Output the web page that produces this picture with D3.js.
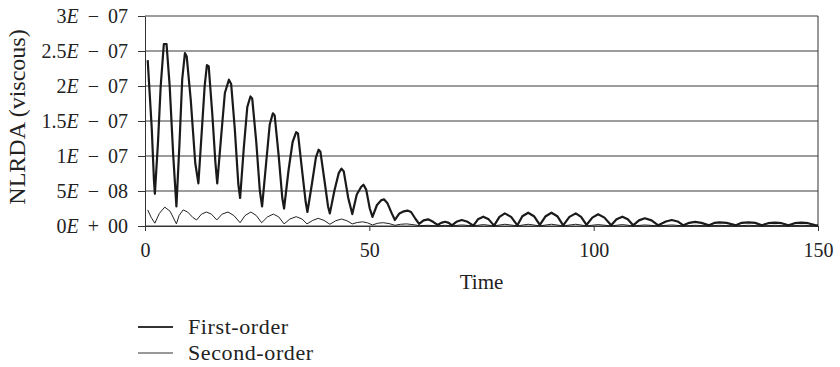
<!DOCTYPE html>
<html>
<head>
<meta charset="utf-8">
<script src="https://cdn.jsdelivr.net/npm/d3@7"></script>
<style>
  body { margin: 0; background: #fff; }
  text { font-family: "Liberation Serif", "Times New Roman", serif; fill: #222; }
</style>
</head>
<body>
<div id="chart"></div>
<script>
// values (time, NLRDA)
var firstTime = [0.6, 1.5, 2.0, 2.2, 2.9, 3.5, 4.2, 4.8, 5.5, 6.3, 7.0, 7.7, 8.3, 8.9, 9.3, 10.2, 11.2, 11.9,
  12.6, 13.3, 13.8, 14.2, 15.0, 15.7, 16.1, 17.0, 17.8, 18.7, 19.2, 20.0, 20.8, 21.2, 22.0, 22.8, 23.5, 23.9,
  24.8, 25.6, 26.1, 27.0, 27.8, 28.5, 28.9, 29.8, 30.6, 31.0, 32.0, 32.9, 33.7, 34.1, 35.0, 35.8, 36.2,
  37.2, 38.1, 38.7, 39.1, 40.0, 40.8, 41.2, 42.2, 43.2, 43.8, 44.3, 45.3, 46.2, 47.2, 48.2, 48.7, 49.3,
  50.1, 50.7, 51.7, 52.7, 53.3, 54.0, 55.0, 55.7, 56.7, 57.7, 58.5, 59.3, 60.3, 61.1, 62.1, 63.1, 64.2,
  65.2, 66.0, 66.9, 67.7, 68.4, 69.4, 70.6, 71.9, 73.2, 74.2, 75.4, 76.6, 77.8, 79.0, 80.2, 81.6, 83.0,
  84.1, 85.4, 86.7, 88.0, 89.3, 90.6, 91.9, 93.2, 94.6, 96.0, 97.2, 98.4, 99.7, 101.0, 102.4, 103.9,
  105.1, 106.4, 107.6, 108.8, 110.1, 111.4, 112.9, 114.4, 116.1, 117.4, 118.7, 120.0, 121.3, 122.6, 124.0,
  125.7, 127.0, 128.0, 129.6, 131.7, 133.0, 134.5, 136.0, 137.5, 138.9, 140.4, 141.9, 143.4, 144.8, 146.3,
  147.8, 149.5, 150];
var firstValue = [23.7, 14, 6.5, 4.6, 12, 20, 26.0, 26.0, 20, 10, 2.8, 12, 21, 24.7, 24.2, 18, 9, 6.1,
  13, 20, 23.0, 22.8, 16, 9, 6.1, 13, 19, 20.9, 20.3, 14, 6, 4.0, 11, 17, 18.5, 18.2,
  12, 5, 2.8, 9, 14.5, 16.1, 15.8, 10, 4, 2.5, 8, 12, 13.4, 13.2, 8, 3.5, 2.0,
  6, 9.8, 10.9, 10.6, 6.5, 2.8, 1.8, 5, 7.6, 8.2, 7.8, 4, 1.7, 4.5, 5.6, 5.9, 5.2,
  2.5, 1.3, 3.0, 3.7, 3.8, 3.3, 1.8, 0.86, 1.8, 2.1, 2.2, 2.0, 1.0, 0.3, 0.8, 0.95, 0.6,
  0.15, 0.45, 0.6, 0.45, 0.1, 0.6, 0.86, 0.6, 0.05, 0.95, 1.33, 0.95, 0.05, 1.3, 1.8, 1.3, 0.1,
  1.4, 1.9, 1.4, 0.15, 1.4, 1.9, 1.4, 0.1, 1.3, 1.8, 1.3, 0.15, 1.2, 1.67, 1.2, 0.1,
  0.95, 1.33, 0.95, 0.1, 0.8, 1.1, 0.8, 0.1, 0.65, 0.86, 0.65, 0.1, 0.45, 0.6, 0.45,
  0.1, 0.45, 0.53, 0.45, 0.1, 0.45, 0.53, 0.45, 0.1, 0.4, 0.47, 0.4, 0.1, 0.4, 0.47,
  0.4, 0.1, 0.1].map(function(v) { return v * 1e-8; });

var secondTime = [0.6, 1.4, 2.2, 3.2, 4.4, 5.6, 7.0, 7.6, 8.5, 9.5, 10.7, 11.5, 12.6, 13.7, 14.8, 16.0,
  17.2, 18.5, 19.8, 21.2, 22.3, 23.6, 24.8, 26.0, 27.3, 28.6, 29.8, 31.0, 32.3, 33.7, 35.0, 36.1,
  37.4, 38.6, 39.9, 41.2, 42.5, 43.8, 45.0, 46.2, 47.3, 48.5, 49.6, 50.7, 51.9, 53.1, 54.4, 55.7,
  57.0, 58.3, 59.7, 61.1, 63.1, 65.2, 66.9, 68.4, 70.6, 73.2, 75.4, 77.8, 80.2, 83.0, 85.4, 88.0,
  90.6, 93.2, 96.0, 98.4, 101.0, 103.9, 106.4, 108.8, 111.4, 114.4, 117.4, 120.0, 122.6, 125.7,
  128.0, 131.7, 134.5, 137.5, 140.4, 143.4, 146.3, 150];
var secondValue = [2.3, 1.2, 0.4, 1.8, 2.7, 2.1, 0.3, 1.5, 2.3, 2.0, 1.2, 0.86, 1.7, 2.0, 1.7, 0.86,
  1.7, 2.0, 1.5, 0.47, 1.5, 2.0, 1.5, 0.47, 1.3, 1.7, 1.3, 0.3, 1.0, 1.33, 1.0, 0.3,
  0.8, 1.1, 0.8, 0.25, 0.75, 1.0, 0.75, 0.3, 0.5, 0.6, 0.45, 0.15, 0.4, 0.47, 0.35, 0.1,
  0.25, 0.3, 0.2, 0.05, 0.1, 0.02, 0.1, 0.02, 0.15, 0.02, 0.2, 0.02, 0.25, 0.02, 0.25, 0.02,
  0.25, 0.02, 0.25, 0.02, 0.2, 0.02, 0.2, 0.02, 0.15, 0.02, 0.15, 0.02, 0.1, 0.02,
  0.1, 0.02, 0.1, 0.02, 0.1, 0.02, 0.1, 0.02].map(function(v) { return v * 1e-8; });

var xTicks = [0, 50, 100, 150];
var yTicks = [0, 5e-8, 1e-7, 1.5e-7, 2e-7, 2.5e-7, 3e-7];
var yTickLabels = ["0E + 00", "5E \u2212 08", "1E \u2212 07", "1.5E \u2212 07", "2E \u2212 07", "2.5E \u2212 07", "3E \u2212 07"];
var seriesNames = ["First-order", "Second-order"];

var svgWidth = 840;
var svgHeight = 367;
var margin = { top: 16, right: 22, bottom: 141, left: 145 };
var width = svgWidth - margin.left - margin.right;
var height = svgHeight - margin.top - margin.bottom;

var svg = d3.select("#chart")
  .append("svg")
  .attr("width", svgWidth)
  .attr("height", svgHeight);

var chartGroup = svg.append("g")
  .attr("transform", `translate(${margin.left}, ${margin.top})`);

var xScale = d3.scaleLinear().domain([0, 150]).range([0, width]);
var yScale = d3.scaleLinear().domain([0, 3e-7]).range([height, 0]);

// gridlines
chartGroup.selectAll(".grid")
  .data(yTicks)
  .enter()
  .append("line")
  .attr("x1", 0)
  .attr("x2", width)
  .attr("y1", d => yScale(d))
  .attr("y2", d => yScale(d))
  .attr("stroke", "#3a3a3a")
  .attr("stroke-width", 1);

// right border
chartGroup.append("line")
  .attr("x1", width).attr("x2", width)
  .attr("y1", 0).attr("y2", height)
  .attr("stroke", "#333");

// axes
var leftAxis = d3.axisLeft(yScale)
  .tickValues(yTicks)
  .tickSize(7)
  .tickSizeOuter(0)
  .tickPadding(10)
  .tickFormat((d, i) => yTickLabels[i]);

var bottomAxis = d3.axisBottom(xScale)
  .tickValues(xTicks)
  .tickSize(5)
  .tickSizeOuter(0)
  .tickPadding(12);

var yAxisG = chartGroup.append("g").call(leftAxis);
var xAxisG = chartGroup.append("g")
  .attr("transform", `translate(0, ${height})`)
  .call(bottomAxis);

[yAxisG, xAxisG].forEach(function(g) {
  g.selectAll("path, line").attr("stroke", "#333");
  g.selectAll("text")
    .attr("font-size", "20px")
    .attr("fill", "#222");
});

// split the E so it can be italic
yAxisG.selectAll(".tick text").each(function(d, i) {
  var parts = yTickLabels[i].split("E");
  var t = d3.select(this).text(null);
  t.append("tspan").text(parts[0]);
  t.append("tspan").attr("font-style", "italic").text("E");
  t.append("tspan").text(parts[1].replace(" ", "\u2009 ").replace(/ (\d)/, "\u2009 $1"));
});

// lines
var line = d3.line()
  .x(d => xScale(d[0]))
  .y(d => yScale(d[1]));

var firstData = firstTime.map((t, i) => [t, firstValue[i]]);
var secondData = secondTime.map((t, i) => [t, secondValue[i]]);

chartGroup.append("path")
  .datum(secondData)
  .attr("d", line)
  .attr("fill", "none")
  .attr("stroke", "#222")
  .attr("stroke-width", 1);

chartGroup.append("path")
  .datum(firstData)
  .attr("d", line)
  .attr("fill", "none")
  .attr("stroke", "#1a1a1a")
  .attr("stroke-width", 2.2)
  .attr("stroke-linejoin", "round");

// axis labels
chartGroup.append("text")
  .attr("x", width / 2)
  .attr("y", height + 63)
  .attr("text-anchor", "middle")
  .attr("font-size", "21px")
  .text("Time");

svg.append("text")
  .attr("transform", `translate(25, ${margin.top + height / 2 - 4}) rotate(-90)`)
  .attr("text-anchor", "middle")
  .attr("font-size", "24px")
  .text("NLRDA (viscous)");

// legend
var legend = svg.append("g").attr("transform", "translate(138, 327)");
seriesNames.forEach(function(name, i) {
  var row = legend.append("g").attr("transform", `translate(0, ${i * 26})`);
  row.append("line")
    .attr("x1", 0).attr("x2", 35)
    .attr("stroke", "#333")
    .attr("stroke-width", i === 0 ? 2 : 1);
  row.append("text")
    .attr("x", 50)
    .attr("y", 7)
    .attr("font-size", "22px")
    .attr("letter-spacing", "0.6px")
    .text(name);
});
</script>
</body>
</html>
